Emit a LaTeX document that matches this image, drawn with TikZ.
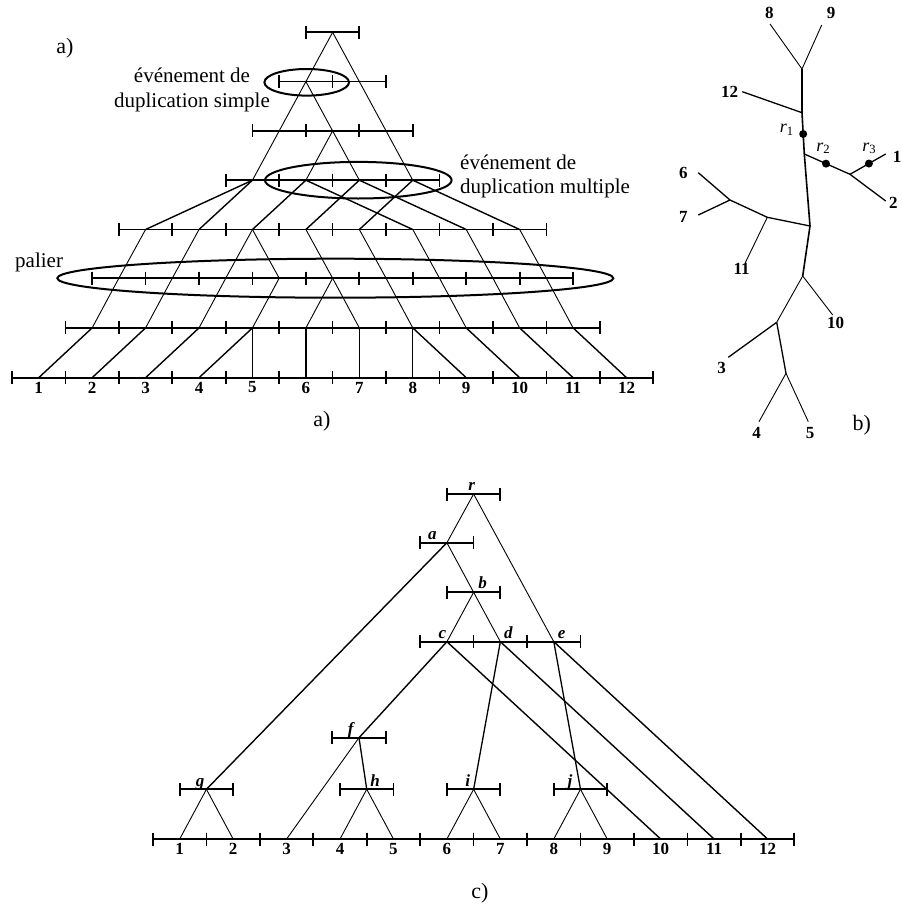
\documentclass[tikz,border=0pt]{standalone}
\usepackage{fontspec}
\setmainfont{Liberation Serif}
\usetikzlibrary{calc}

\newcommand{\ax}[1]{38.7+26.72*(#1)}
\newcommand{\cx}[1]{179.7+26.72*(#1)}
\newcommand{\tickseg}[2]{%
  \draw[seg] ({#1-26.72},#2) -- ({#1+26.72},#2)
    ({#1-26.72},#2-6.5) -- ({#1-26.72},#2+6.5)
    ({#1+26.72},#2-6.5) -- ({#1+26.72},#2+6.5);}

\begin{document}
\begin{tikzpicture}[x=1pt, y=-1pt,
  seg/.style={line width=1.7pt},
  branch/.style={line width=0.9pt},
  heavy/.style={line width=1.4pt},
  stem/.style={line width=1.3pt},
  event/.style={line width=2pt},
  tag/.style={font=\fontsize{22}{24}\selectfont, inner sep=0pt},
  note/.style={font=\fontsize{21}{24.6}\selectfont, inner sep=0pt},
  leaf/.style={font=\fontsize{17}{17}\selectfont\bfseries, inner sep=0pt},
  gene/.style={font=\fontsize{17}{17}\selectfont\bfseries\itshape, inner sep=0pt, anchor=base},
  rootlbl/.style={font=\fontsize{18}{18}\selectfont, inner sep=0pt},
  dot/.style={circle, fill, inner sep=0pt, minimum size=8pt}
]
\useasboundingbox (0,0) rectangle (902,905);

% === a) rows of segments ===
\foreach \rw/\y/\mz/\n in {1/32.3/11/1, 2/81.6/10/2, 3/130.9/9/3, 4/180.2/8/4,
                           5/229.5/4/8, 6/278.2/3/9, 7/327.9/2/10, 8/377.7/0/12} {
  \foreach \q in {1,...,\n} {
    \pgfmathtruncatemacro\m{\mz+2*(\q-1)}
    \coordinate (a\rw-\m) at ({\ax{\m}},\y);
    \tickseg{\ax{\m}}{\y}
  }
}

% === a) branches ===
\foreach \rw/\pa/\kid in {1/11/10, 1/11/12, 2/10/9, 2/10/11, 2/12/13,
    3/9/8, 3/11/10, 3/11/12, 3/13/14,
    5/4/3, 5/6/5, 5/8/7, 5/8/9, 5/10/11, 5/12/13, 5/14/15, 5/16/17, 5/18/19,
    6/3/2, 6/5/4, 6/7/6, 6/9/8, 6/11/10, 6/11/12, 6/13/14, 6/15/16, 6/17/18, 6/19/20} {
  \pgfmathtruncatemacro\nx{\rw+1}
  \draw[branch] (a\rw-\pa) -- (a\nx-\kid);
}
\foreach \rw/\pa/\kid in {4/8/4, 4/8/6, 4/10/8, 4/10/14, 4/12/10, 4/12/16, 4/14/12, 4/14/18,
    7/2/0, 7/4/2, 7/6/4, 7/8/6, 7/8/8, 7/10/10, 7/12/12, 7/14/14, 7/14/16,
    7/16/18, 7/18/20, 7/20/22} {
  \pgfmathtruncatemacro\nx{\rw+1}
  \draw[heavy] (a\rw-\pa) -- (a\nx-\kid);
}

\foreach \q in {1,...,12} {
  \pgfmathtruncatemacro\m{2*\q-2}
  \node[leaf] (na\q) at ({\ax{\m}},387.5) {\q};
}

% === a) events ===
\draw[event] (306.7,82.3) ellipse [x radius=42.3, y radius=13.3];
\draw[event] (358.3,180.2) ellipse [x radius=93.3, y radius=18.3];
\draw[event] (335.3,278.2) ellipse [x radius=278, y radius=19.5];

\node[tag] (capA) at (65,48) {a)};
\node[note, align=center] (simple) at (192,90) {événement de\\duplication simple};
\node[note, align=left, anchor=west] (multiple) at (460,176.4) {événement de\\duplication multiple};
\node[note, anchor=west] (palier) at (15,262) {palier};
\node[tag] (subA) at (322,421) {a)};

% === b) unrooted tree ===
\coordinate (b89) at (802,69);
\coordinate (e8) at (770,24);
\coordinate (e9) at (821.7,25);
\coordinate (b12) at (802,112.7);
\coordinate (e12) at (742.3,91.7);
\coordinate (b2) at (804.3,154);
\coordinate (bL) at (810,226);
\coordinate (b11) at (767.3,217.3);
\coordinate (e11) at (745,263.3);
\coordinate (b67) at (730,200);
\coordinate (e6) at (698.3,172.7);
\coordinate (e7) at (698.3,215);
\coordinate (b10) at (802.7,276);
\coordinate (e10) at (832.7,315);
\coordinate (b3) at (776.7,322.3);
\coordinate (e3) at (728.3,357.3);
\coordinate (b45) at (786,373.3);
\coordinate (e4) at (759,421.7);
\coordinate (e5) at (808.3,421.7);
\coordinate (b1) at (850,174.3);
\coordinate (e1) at (885.7,154);
\coordinate (e2) at (885.7,201);

\draw[branch] (e8) -- (b89) -- (e9);
\draw[line width=1.6pt] (b89) -- (b12);
\draw[line width=1.6pt] (b12) -- (b2) node[pos=0.516, dot] (r1) {};
\draw[line width=1.6pt] (b2) -- (bL) -- (b10);
\draw[stem] (e12) -- (b12);
\draw[stem] (b2) -- (b1) node[pos=0.475, dot] (r2) {};
\draw[stem] (b1) -- (e1) node[pos=0.53, dot] (r3) {};
\draw[stem] (b1) -- (e2);
\draw[stem] (bL) -- (b11) -- (b67) -- (e6);
\draw[stem] (b67) -- (e7);
\draw[branch] (b11) -- (e11);
\draw[branch] (b10) -- (e10);
\draw[branch] (b10) -- (b3);
\draw[stem] (b3) -- (e3);
\draw[stem] (b3) -- (b45);
\draw[branch] (b45) -- (e4);
\draw[branch] (b45) -- (e5);

\node[leaf] (nb8) at (769.3,13.3) {8};
\node[leaf] (nb9) at (831,13.3) {9};
\node[leaf] (nb12) at (729.5,92.3) {12};
\node[leaf] (nb6) at (683.3,173.3) {6};
\node[leaf] (nb7) at (683.3,216.7) {7};
\node[leaf] (nb11) at (741.7,269.3) {11};
\node[leaf] (nb10) at (835.7,322.7) {10};
\node[leaf] (nb3) at (721.7,368.3) {3};
\node[leaf] (nb4) at (756.7,433.3) {4};
\node[leaf] (nb5) at (810,433.3) {5};
\node[leaf] (nb1) at (897,156.7) {1};
\node[leaf] (nb2) at (893.3,202.7) {2};
\node[rootlbl] (t1) at (786.7,130) {\textit{r}\textsubscript{1}};
\node[rootlbl] (t2) at (823.3,148.3) {\textit{r}\textsubscript{2}};
\node[rootlbl] (t3) at (869.3,148.3) {\textit{r}\textsubscript{3}};
\node[tag] (subB) at (861.7,425) {b)};

% === c) duplication history ===
\coordinate (cr) at ({\cx{11}},494);
\coordinate (ca) at ({\cx{10}},542.7);
\coordinate (cb) at ({\cx{11}},592.3);
\coordinate (cc) at ({\cx{10}},641.7);
\coordinate (cd) at ({\cx{12}},641.7);
\coordinate (ce) at ({\cx{14}},641.7);
\coordinate (cf) at (359,737.7);
\coordinate (cg) at ({\cx{1}},789.3);
\coordinate (ch) at ({\cx{7}},789.3);
\coordinate (ci) at ({\cx{11}},789.3);
\coordinate (cj) at ({\cx{15}},789.3);

\tickseg{\cx{11}}{494}
\tickseg{\cx{10}}{542.7}
\tickseg{\cx{11}}{592.3}
\tickseg{\cx{10}}{641.7}
\tickseg{\cx{12}}{641.7}
\tickseg{\cx{14}}{641.7}
\tickseg{359}{737.7}
\tickseg{\cx{1}}{789.3}
\tickseg{\cx{7}}{789.3}
\tickseg{\cx{11}}{789.3}
\tickseg{\cx{15}}{789.3}
\foreach \q in {1,...,12} {
  \pgfmathtruncatemacro\m{2*\q-2}
  \coordinate (cl\q) at ({\cx{\m}},839);
  \tickseg{\cx{\m}}{839}
  \node[leaf] (nc\q) at ({\cx{\m}},848.6) {\q};
}

\draw[branch] (cr) -- (ca);
\draw[branch] (cr) -- (ce);
\draw[branch] (ca) -- (cb);
\draw[branch] (cb) -- (cc);
\draw[branch] (cb) -- (cd);
\draw[heavy] (ca) -- (cg);
\draw[heavy] (cc) -- (cf);
\draw[heavy] (cc) -- (cl10);
\draw[heavy] (cd) -- (cl11);
\draw[heavy] (ce) -- (cl12);
\draw[stem] (cd) -- (ci);
\draw[stem] (ce) -- (cj);
\draw[stem] (cf) -- (ch);
\draw[branch] (cf) -- (cl3);
\draw[branch] (cg) -- (cl1);
\draw[branch] (cg) -- (cl2);
\draw[branch] (ch) -- (cl4);
\draw[branch] (ch) -- (cl5);
\draw[branch] (ci) -- (cl6);
\draw[branch] (ci) -- (cl7);
\draw[branch] (cj) -- (cl8);
\draw[branch] (cj) -- (cl9);

\node[gene] (lr) at (471.7,490.5) {r};
\node[gene] (la) at (432.3,539.3) {a};
\node[gene] (lb) at (482.7,588.5) {b};
\node[gene] (lc) at (442.3,638.2) {c};
\node[gene] (ld) at (508.3,638.2) {d};
\node[gene] (le) at (561.7,638.2) {e};
\node[gene] (lf) at (350.7,734.5) {f};
\node[gene] (lg) at (200,786.5) {g};
\node[gene] (lh) at (375,786.5) {h};
\node[gene] (li) at (467.7,786.5) {i};
\node[gene] (lj) at (570,786.5) {j};
\node[tag] (subC) at (480,893) {c)};

\end{tikzpicture}
\end{document}
